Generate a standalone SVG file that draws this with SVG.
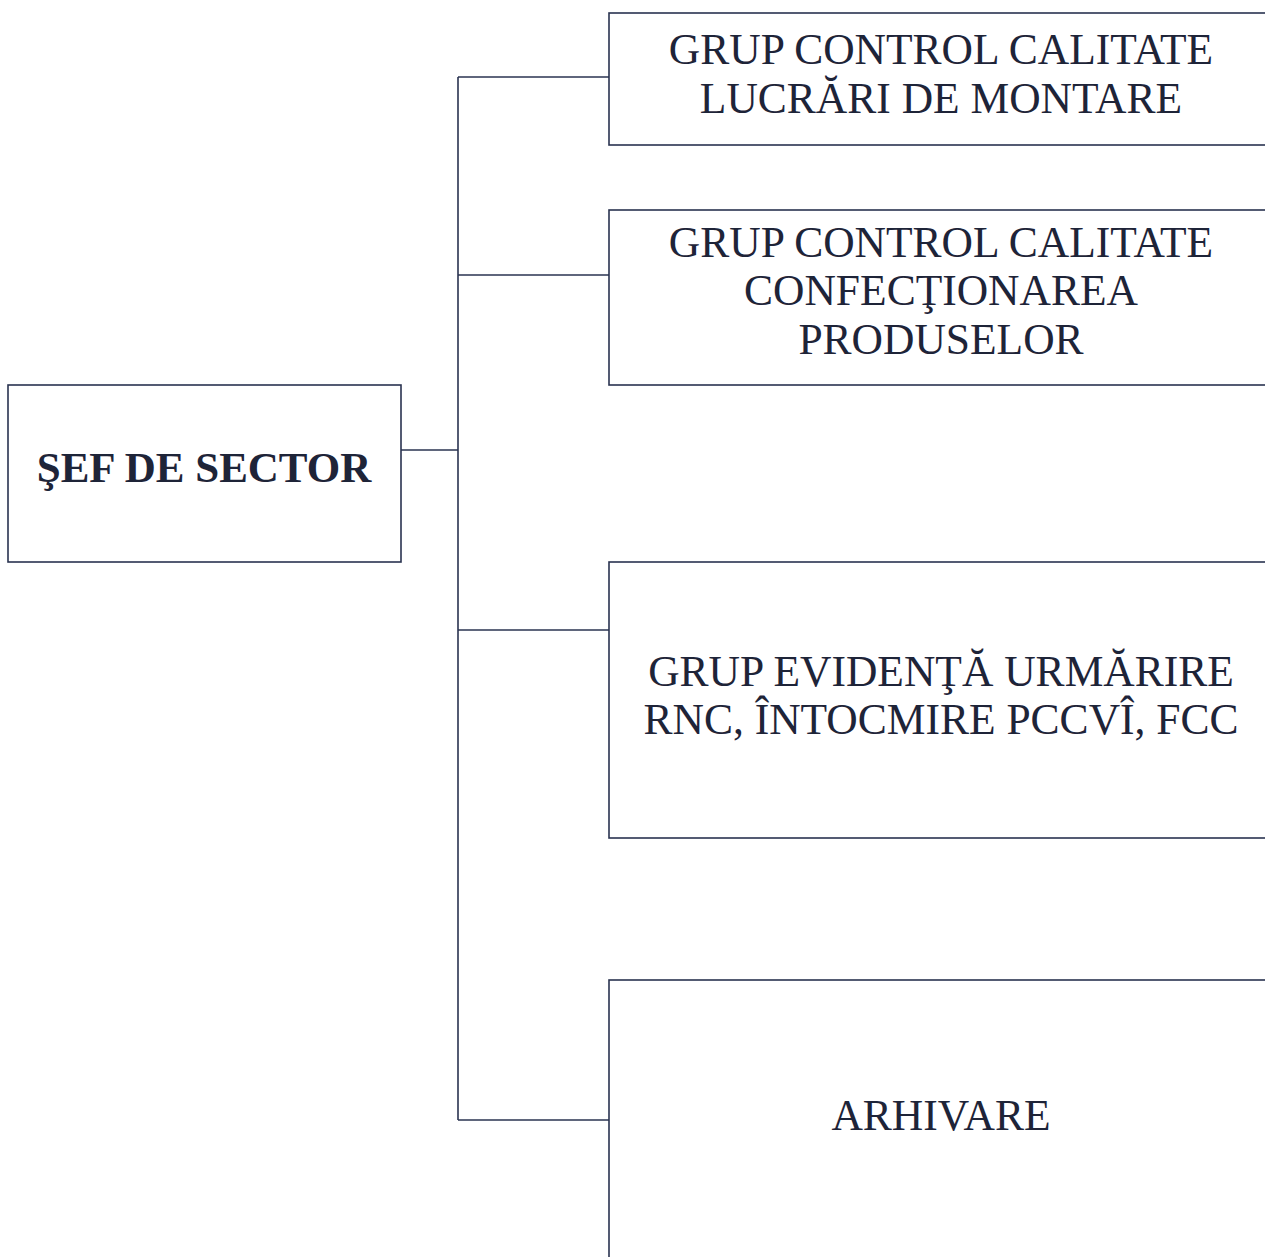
<svg xmlns="http://www.w3.org/2000/svg" width="1265" height="1257" viewBox="0 0 1265 1257">
<style>
.box{fill:#ffffff;stroke:#2a3350;stroke-width:1.6}
.ln{fill:none;stroke:#2a3350;stroke-width:1.6}
.t{font-family:"Liberation Serif","Times New Roman",serif;font-size:43.5px;fill:#1e2438;text-anchor:middle}
.b{font-weight:bold;font-size:43px}
</style>
<rect width="1265" height="1257" fill="#ffffff"/>
<g id="connectors">
<path class="ln" d="M458,77 V1120"/>
<path class="ln" d="M401,450 H458"/>
<path class="ln" d="M458,77 H609"/>
<path class="ln" d="M458,275 H609"/>
<path class="ln" d="M458,630 H609"/>
<path class="ln" d="M458,1120 H609"/>
</g>
<g id="sef">
<rect class="box" x="8" y="385" width="393" height="177"/>
<text class="t b" x="204" y="482">ŞEF DE SECTOR</text>
</g>
<g id="grup-montare">
<rect class="box" x="609" y="13" width="670" height="132"/>
<text class="t" x="941" y="64">GRUP CONTROL CALITATE</text>
<text class="t" x="941" y="113">LUCRĂRI DE MONTARE</text>
</g>
<g id="grup-confectionare">
<rect class="box" x="609" y="210" width="670" height="175"/>
<text class="t" x="941" y="257">GRUP CONTROL CALITATE</text>
<text class="t" x="941" y="305">CONFECŢIONAREA</text>
<text class="t" x="941" y="354">PRODUSELOR</text>
</g>
<g id="grup-evidenta">
<rect class="box" x="609" y="562" width="670" height="276"/>
<text class="t" x="941" y="686">GRUP EVIDENŢĂ URMĂRIRE</text>
<text class="t" x="941" y="734">RNC, ÎNTOCMIRE PCCVÎ, FCC</text>
</g>
<g id="arhivare">
<rect class="box" x="609" y="980" width="670" height="300"/>
<text class="t" x="941" y="1130">ARHIVARE</text>
</g>
</svg>
